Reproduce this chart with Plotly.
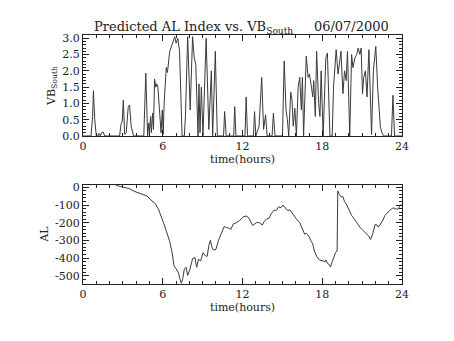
import plotly.graph_objects as go
from plotly.subplots import make_subplots

# Southward IMF component VB_South (mV/m) vs. time of day
vb_time = [0, 0.6, 0.72, 0.78, 0.88, 1.0, 1.12, 1.2, 1.3, 1.4, 1.52, 1.62, 2.75, 2.85, 2.95, 3.03, 3.13, 3.25,
           3.4, 3.5, 3.62, 3.8, 4.57, 4.72, 4.86, 4.95, 5.0, 5.08, 5.14, 5.23, 5.3, 5.38, 5.47, 5.55, 5.63,
           5.79, 5.87, 5.96, 6.03, 6.1, 6.26, 6.35, 6.52, 6.69, 6.9, 7.0, 7.13, 7.26, 7.45, 7.62, 7.7, 7.87,
           8.06, 8.24, 8.36, 8.48, 8.65, 8.72, 8.8, 8.9, 9.02, 9.26, 9.46, 9.65, 9.75, 9.95, 10.1, 10.57,
           10.65, 10.77, 11.33, 11.41, 11.5, 12.18, 12.27, 12.37, 12.82, 12.9, 13.0, 13.24, 13.44, 13.58,
           13.73, 13.85, 14.22, 14.32, 14.44, 15.0, 15.13, 15.27, 15.37, 15.47, 15.62, 15.72, 15.81, 15.93,
           16.05, 16.18, 16.3, 16.42, 16.5, 16.59, 16.69, 16.79, 16.93, 17.03, 17.18, 17.28, 17.35, 17.47,
           17.57, 17.72, 17.82, 17.91, 18.06, 18.16, 18.26, 18.38, 18.57, 18.74, 18.84, 19.04, 19.18, 19.4,
           19.55, 19.67, 19.79, 19.89, 20.06, 20.2, 20.3, 20.45, 20.58, 20.7, 20.82, 20.92, 21.02, 21.11,
           21.24, 21.36, 21.5, 21.7, 21.84, 22.02, 22.16, 22.36, 22.48, 22.6, 23.2, 23.31, 23.43, 24]
vb_south = [0, 0, 0.6, 1.39, 0.5, 0, 0, 0.08, 0, 0.1, 0.12, 0, 0, 0.35, 0.45, 1.1, 0.05, 0.1,
            0.9, 0.95, 0.3, 0, 0, 1.93, 0, 0.4, 0.1, 0.6, 0.1, 0.7, 0.2, 1.75, 1.5, 1.6, 1.5,
            0.3, 0.1, 0.8, 0.05, 1.0, 2.1, 1.95, 2.6, 2.8, 3.05, 2.85, 3.0, 2.6, 0, 0, 0.6, 3.05,
            0.8, 3.05, 2.4, 2.2, 0, 1.6, 0.1, 1.5, 0, 3.0, 0.2, 2.0, 0, 2.6, 0, 0,
            0.75, 0, 0, 0.9, 0, 0, 1.2, 0, 0, 0.75, 0, 0.3, 1.8, 0.2,
            0.65, 0, 0, 0.7, 0, 0, 2.3, 0.8, 0.5, 0, 1.35, 1.1, 0.3, 0.85,
            0, 1.5, 1.8, 0.8, 1.8, 0, 1.3, 2.45, 1.8, 1.9, 1.5, 1.2, 1.7, 0.6,
            2.6, 1.0, 0.6, 2.0, 0, 1.5, 2.4, 2.55, 0, 0, 1.5, 2.65, 1.9, 2.6,
            1.3, 2.0, 1.7, 2.6, 0, 2.5, 2.1, 2.4, 2.5, 2.7, 2.5, 2.7, 1.3, 1.8,
            2.0, 1.2, 2.65, 0.05, 2.0, 2.75, 1.5, 0.3, 0.1, 0, 0, 1.25, 0, 0]

# Predicted AL index (nT)
al_time = [2.49, 3.10, 3.47, 3.84, 4.20, 4.45, 4.81, 5.18, 5.43, 5.67, 5.91, 6.08, 6.28, 6.52, 6.70, 6.84,
           7.01, 7.18, 7.28, 7.40, 7.50, 7.62, 7.75, 7.87, 8.04, 8.24, 8.41, 8.55, 8.68, 8.85, 9.02, 9.21,
           9.34, 9.46, 9.58, 9.70, 9.82, 10.0, 10.19, 10.43, 10.61, 10.80, 10.97, 11.12, 11.29, 11.53,
           11.78, 12.02, 12.27, 12.44, 12.63, 12.76, 12.88, 13.07, 13.25, 13.49, 13.61, 13.81, 13.98,
           14.15, 14.35, 14.54, 14.71, 14.88, 15.03, 15.20, 15.37, 15.57, 15.81, 16.06, 16.30, 16.50,
           16.67, 16.79, 16.98, 17.16, 17.28, 17.40, 17.57, 17.77, 18.01, 18.21, 18.26, 18.38, 18.50,
           18.62, 18.74, 18.87, 18.99, 19.11, 19.16, 19.28, 19.43, 19.53, 19.67, 19.84, 20.01, 20.21,
           20.41, 20.58, 20.82, 21.07, 21.31, 21.48, 21.63, 21.80, 21.97, 22.09, 22.21, 22.36, 22.53,
           22.70, 22.90, 23.07, 23.19, 23.31, 23.44, 23.56, 23.68, 23.80, 23.93]
al_index = [11, 2, -7, -22, -31, -40, -49, -77, -92, -123, -168, -205, -251, -306, -370, -443,
            -462, -484, -516, -544, -516, -462, -452, -498, -462, -403, -397, -452, -407, -416, -370, -388,
            -390, -330, -300, -340, -355, -350, -300, -250, -222, -228, -230, -238, -208, -200,
            -188, -168, -162, -170, -200, -215, -210, -198, -200, -213, -195, -178, -175,
            -150, -130, -130, -110, -115, -100, -118, -130, -128, -155, -180, -200, -240,
            -265, -260, -275, -305, -320, -360, -390, -410, -415, -420, -410, -430, -435,
            -450, -420, -395, -370, -360, -20, -40, -55, -50, -80, -100, -125, -160,
            -180, -200, -225, -245, -262, -275, -295, -260, -210, -212, -225, -210, -190,
            -160, -140, -130, -125, -115, -122, -120, -125, -110, -95]

hour_ticks = [0, 6, 12, 18, 24]
vb_ticks = [0.0, 0.5, 1.0, 1.5, 2.0, 2.5, 3.0]
al_ticks = [0, -100, -200, -300, -400, -500]

W, H = 454, 341
FONT = "DejaVu Serif"
INK = "#222222"

fig = make_subplots(rows=2, cols=1)
fig.add_trace(go.Scatter(x=vb_time, y=vb_south, mode="lines",
                         line=dict(color="#3a3a3a", width=1)), row=1, col=1)
fig.add_trace(go.Scatter(x=al_time, y=al_index, mode="lines",
                         line=dict(color="#3a3a3a", width=1)), row=2, col=1)

xdom = [81 / W, 408 / W]
common_x = dict(range=[0, 24], tickvals=hour_ticks, ticktext=[str(v) for v in hour_ticks],
                showgrid=False, zeroline=False, showline=True, linecolor=INK, linewidth=1,
                mirror="ticks", ticks="inside", ticklen=6, tickcolor=INK,
                minor=dict(dtick=1, ticks="inside", ticklen=3, tickcolor=INK),
                tickfont=dict(family=FONT, size=11, color=INK),
                title=dict(text="time(hours)", font=dict(family=FONT, size=11, color=INK), standoff=2),
                domain=xdom)
common_y = dict(showgrid=False, zeroline=False, showline=True, linecolor=INK, linewidth=1,
                mirror="ticks", ticks="inside", ticklen=6, tickcolor=INK,
                tickfont=dict(family=FONT, size=11, color=INK))

fig.update_xaxes(**common_x)
fig.update_yaxes(**common_y)

fig.update_yaxes(row=1, col=1, range=[0, 3.1], tickvals=vb_ticks,
                 ticktext=[f"{v:.1f}" for v in vb_ticks],
                 minor=dict(dtick=0.1, ticks="inside", ticklen=3, tickcolor=INK),
                 domain=[1 - 137 / H, 1 - 33 / H],
                 title=dict(text="VB<sub>South</sub>", font=dict(family=FONT, size=11, color=INK),
                            standoff=4))
fig.update_yaxes(row=2, col=1, range=[-544, 16], tickvals=al_ticks,
                 ticktext=[str(v) for v in al_ticks],
                 minor=dict(dtick=20, tick0=0, ticks="inside", ticklen=3, tickcolor=INK),
                 domain=[1 - 289 / H, 1 - 187 / H],
                 title=dict(text="AL", font=dict(family=FONT, size=11, color=INK), standoff=4))

fig.add_annotation(text="Predicted AL Index vs. VB<sub>South</sub>     06/07/2000",
                   xref="paper", yref="paper", x=243 / W, y=1 - 25 / H,
                   xanchor="center", yanchor="middle", showarrow=False,
                   font=dict(family=FONT, size=13, color=INK))

fig.update_layout(width=W, height=H, margin=dict(l=0, r=0, t=0, b=0),
                  paper_bgcolor="white", plot_bgcolor="white", showlegend=False)

fig.write_html("out.html")
